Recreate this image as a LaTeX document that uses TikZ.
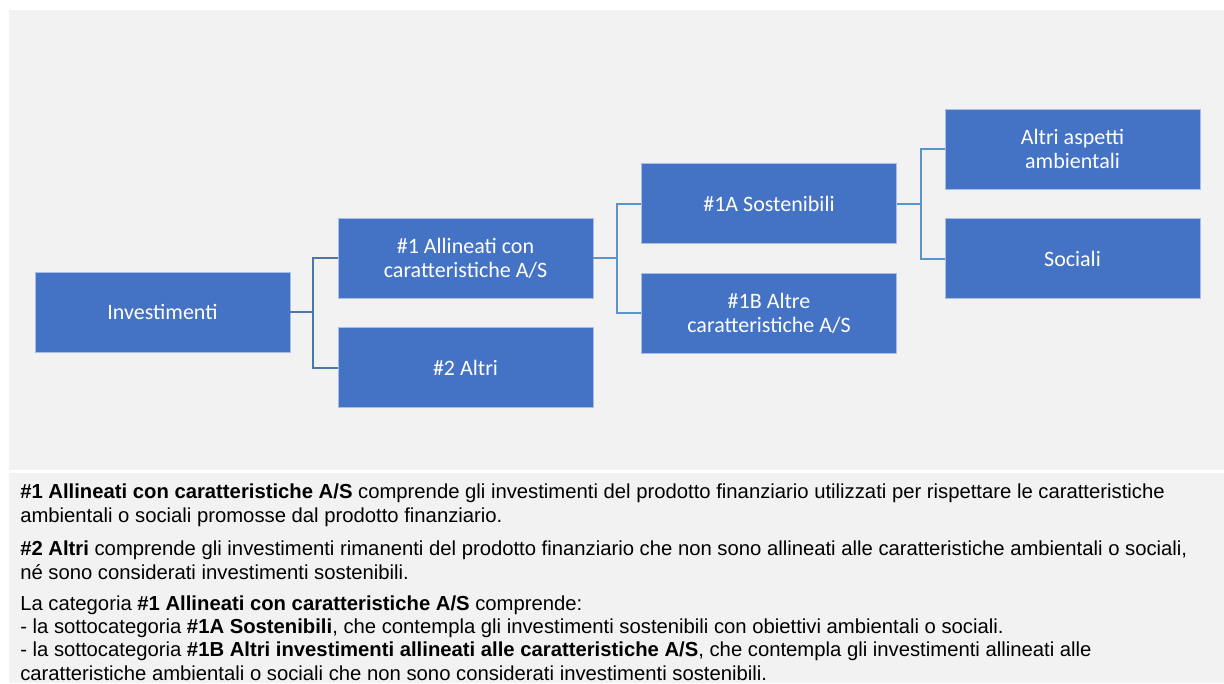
\documentclass[tikz,border=0pt]{standalone}
\usepackage{fontspec}
\setmainfont{Liberation Sans}
\newfontfamily\boxfont{Carlito}
\usetikzlibrary{positioning,calc}
\definecolor{panelgray}{HTML}{F2F2F2}
\definecolor{boxblue}{HTML}{4472C4}
\definecolor{boxedge}{HTML}{A9BEE4}
\definecolor{linkdark}{HTML}{4A77A8}
\definecolor{linklight}{HTML}{5B93CC}
\tikzset{
  catbox/.style={fill=boxblue, draw=boxedge, line width=0.5pt, minimum width=191.25pt,
    minimum height=60pt, inner sep=0pt, text=white, align=center,
    font=\boxfont\fontsize{16.5}{18}\selectfont},
  link/.style={line width=1.5pt, draw=linklight},
  note/.style={anchor=base west, align=left, inner sep=0pt,
    font=\fontsize{15.2}{17.4}\selectfont}
}
\begin{document}
\begin{tikzpicture}[x=0.75pt,y=-0.75pt]
\useasboundingbox (0,0) rectangle (1224,683);
% panels
\fill[panelgray] (9,10) rectangle (1224,470);
\fill[panelgray] (9,473) rectangle (1224,683);
% boxes
\node[catbox] (inv) at (162.5,312) {Investimenti};
\node[catbox] (alli) at (465.5,258) {\#1 Allineati con\\caratteristiche A/S};
\node[catbox, below=21.75pt of alli] (altri) {\#2 Altri};
\node[catbox] (sost) at (769,203.5) {\#1A Sostenibili};
\node[catbox, below=21.75pt of sost] (altre) {\#1B Altre\\caratteristiche A/S};
\node[catbox] (amb) at (1072.5,149) {Altri aspetti\\ambientali};
\node[catbox, below=21.75pt of amb] (soc) {Sociali};
% connectors
\coordinate (j1) at ($(inv.east)+(23,0)$);
\coordinate (j2) at ($(alli.east)+(24,0)$);
\coordinate (j3) at ($(sost.east)+(24,0)$);
\draw[link, draw=linkdark] (inv.east) -- (j1) |- (alli.west);
\draw[link, draw=linkdark] (j1) |- (altri.west);
\draw[link] (alli.east) -- (j2) |- (sost.west);
\draw[link] (j2) |- (altre.west);
\draw[link] (sost.east) -- (j3) |- (amb.west);
\draw[link] (j3) |- (soc.west);
% notes (base = last line)
\node[note] (n1) at (20,522) {\textbf{\#1 Allineati con caratteristiche A/S} comprende gli investimenti del prodotto finanziario utilizzati per rispettare le caratteristiche\\
ambientali o sociali promosse dal prodotto finanziario.};
\node[note] (n2) at (20,579) {\textbf{\#2 Altri} comprende gli investimenti rimanenti del prodotto finanziario che non sono allineati alle caratteristiche ambientali o sociali,\\
né sono considerati investimenti sostenibili.};
\node[note] (n3) at (20,680) {La categoria \textbf{\#1 Allineati con caratteristiche A/S} comprende:\\
- la sottocategoria \textbf{\#1A Sostenibili}, che contempla gli investimenti sostenibili con obiettivi ambientali o sociali.\\
- la sottocategoria \textbf{\#1B Altri investimenti allineati alle caratteristiche A/S}, che contempla gli investimenti allineati alle\\
caratteristiche ambientali o sociali che non sono considerati investimenti sostenibili.};
\end{tikzpicture}
\end{document}
